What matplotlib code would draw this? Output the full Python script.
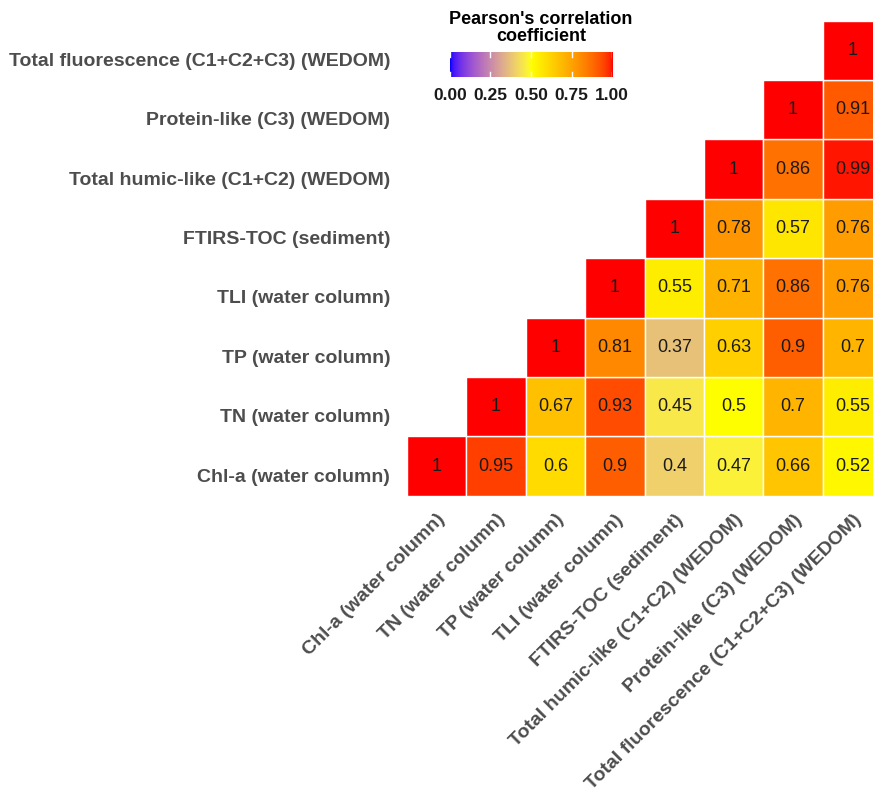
import matplotlib
matplotlib.use("Agg")
import matplotlib.pyplot as plt
import matplotlib.transforms as mtransforms
import numpy as np
from matplotlib.colors import ListedColormap

# variable names, bottom-to-top on y and left-to-right on x
VARIABLES = [
    "Chl-a (water column)",
    "TN (water column)",
    "TP (water column)",
    "TLI (water column)",
    "FTIRS-TOC (sediment)",
    "Total humic-like (C1+C2) (WEDOM)",
    "Protein-like (C3) (WEDOM)",
    "Total fluorescence (C1+C2+C3) (WEDOM)",
]

# upper-triangle correlations, one list per row (starting at the diagonal)
ROW_CHLA = [1, 0.95, 0.6, 0.9, 0.4, 0.47, 0.66, 0.52]
ROW_TN = [1, 0.67, 0.93, 0.45, 0.5, 0.7, 0.55]
ROW_TP = [1, 0.81, 0.37, 0.63, 0.9, 0.7]
ROW_TLI = [1, 0.55, 0.71, 0.86, 0.76]
ROW_FTIRS = [1, 0.78, 0.57, 0.76]
ROW_HUMIC = [1, 0.86, 0.99]
ROW_PROTEIN = [1, 0.91]
ROW_TOTAL = [1]

ROWS = [ROW_CHLA, ROW_TN, ROW_TP, ROW_TLI, ROW_FTIRS, ROW_HUMIC, ROW_PROTEIN, ROW_TOTAL]

CBAR_TICKS = [0.0, 0.25, 0.5, 0.75, 1.0]
CBAR_TICKLABELS = ["0.00", "0.25", "0.50", "0.75", "1.00"]


# --- Lab interpolation, like ggplot's scale_fill_gradient2 ---
def srgb_to_lab(rgb):
    rgb = np.asarray(rgb, dtype=float)
    lin = np.where(rgb <= 0.04045, rgb / 12.92, ((rgb + 0.055) / 1.055) ** 2.4)
    m = np.array([[0.4124, 0.3576, 0.1805],
                  [0.2126, 0.7152, 0.0722],
                  [0.0193, 0.1192, 0.9505]])
    xyz = lin @ m.T / np.array([0.95047, 1.0, 1.08883])
    f = np.where(xyz > 0.008856, np.cbrt(xyz), 7.787 * xyz + 16 / 116)
    L = 116 * f[..., 1] - 16
    a = 500 * (f[..., 0] - f[..., 1])
    b = 200 * (f[..., 1] - f[..., 2])
    return np.stack([L, a, b], axis=-1)


def lab_to_srgb(lab):
    lab = np.asarray(lab, dtype=float)
    fy = (lab[..., 0] + 16) / 116
    fx = fy + lab[..., 1] / 500
    fz = fy - lab[..., 2] / 200
    f = np.stack([fx, fy, fz], axis=-1)
    xyz = np.where(f ** 3 > 0.008856, f ** 3, (f - 16 / 116) / 7.787)
    xyz = xyz * np.array([0.95047, 1.0, 1.08883])
    minv = np.array([[3.2406, -1.5372, -0.4986],
                     [-0.9689, 1.8758, 0.0415],
                     [0.0557, -0.2040, 1.0570]])
    lin = xyz @ minv.T
    lin = np.clip(lin, 0, 1)
    rgb = np.where(lin <= 0.0031308, 12.92 * lin, 1.055 * lin ** (1 / 2.4) - 0.055)
    return np.clip(rgb, 0, 1)


def gradient2_cmap(low, mid, high, n=256):
    lows, mids, highs = srgb_to_lab(low), srgb_to_lab(mid), srgb_to_lab(high)
    out = []
    for v in np.linspace(0, 1, n):
        if v <= 0.5:
            out.append(lows + (mids - lows) * (v / 0.5))
        else:
            out.append(mids + (highs - mids) * ((v - 0.5) / 0.5))
    return ListedColormap(lab_to_srgb(np.array(out)))


cmap = gradient2_cmap([0, 0, 1], [1, 1, 0], [1, 0, 0])

plt.rcParams["font.family"] = ["Liberation Sans", "DejaVu Sans"]

W, H = 873, 794
fig = plt.figure(figsize=(W / 100, H / 100), dpi=100)
ax = fig.add_axes([407 / W, 1 - 495.7 / H, 475.2 / W, 475.2 / H])

n = len(VARIABLES)
for i, row in enumerate(ROWS):
    for k, val in enumerate(row):
        j = i + k
        ax.add_patch(plt.Rectangle((j, i), 1, 1, facecolor=cmap(float(val)),
                                   edgecolor="white", linewidth=1.0))
        ax.text(j + 0.5, i + 0.5, f"{val:g}", ha="center", va="center",
                fontsize=13, color="#1a1a1a")

ax.set_xlim(0, n)
ax.set_ylim(0, n)
ax.set_xticks(np.arange(n) + 0.5)
ax.set_yticks(np.arange(n) + 0.5)
ax.set_xticklabels(VARIABLES, rotation=45, ha="right", va="top",
                   rotation_mode="anchor", fontsize=14, fontweight="bold",
                   color="#4d4d4d")
ax.set_yticklabels(VARIABLES, fontsize=14, fontweight="bold", color="#4d4d4d")
ax.tick_params(axis="y", length=0, pad=12)
ax.tick_params(axis="x", length=0, pad=11)
# y labels sit a little below the row centres in the original
shift = mtransforms.ScaledTranslation(0, -9 / 100, fig.dpi_scale_trans)
for lbl in ax.get_yticklabels():
    lbl.set_transform(lbl.get_transform() + shift)
for s in ax.spines.values():
    s.set_visible(False)

# colour legend
cax = fig.add_axes([450 / W, 1 - 77 / H, 162 / W, 25 / H])
grad = np.linspace(0, 1, 256).reshape(1, -1)
cax.imshow(grad, cmap=cmap, aspect="auto", extent=(0, 1, 0, 1))
for t in CBAR_TICKS:
    cax.plot([t, t], [0, 0.2], color="white", lw=1)
    cax.plot([t, t], [0.8, 1], color="white", lw=1)
cax.set_xlim(0, 1)
cax.set_ylim(0, 1)
cax.set_yticks([])
cax.set_xticks(CBAR_TICKS)
cax.set_xticklabels(CBAR_TICKLABELS, fontsize=12.5, fontweight="bold",
                    color="#1a1a1a")
cax.tick_params(axis="x", length=0, pad=8)
for s in cax.spines.values():
    s.set_visible(False)
fig.text(541 / W, 1 - 28 / H, "Pearson's correlation\ncoefficient",
         ha="center", va="center", fontsize=13, fontweight="bold",
         linespacing=1.05)

fig.savefig("out.png", dpi=100)
